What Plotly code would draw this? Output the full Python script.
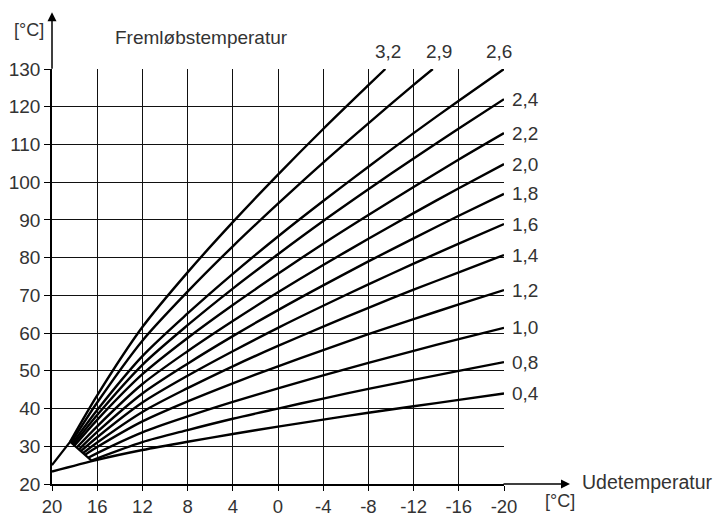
import plotly.graph_objects as go

# ---- data ----
x_ticks = [20, 16, 12, 8, 4, 0, -4, -8, -12, -16, -20]
x_tick_text = ["20", "16", "12", "8", "4", "0", "-4", "-8", "-12", "-16", "-20"]
y_ticks = [20, 30, 40, 50, 60, 70, 80, 90, 100, 110, 120, 130]

curve_names = ["3,2", "2,9", "2,6", "2,4", "2,2", "2,0", "1,8", "1,6", "1,4", "1,2", "1,0", "0,8", "0,4"]

x_32 = [18.4, 16, 12, 8, 4, 0, -4, -8, -9.5]
y_32 = [31.2, 43.5, 61.6, 76.1, 89.4, 102.0, 114.1, 125.7, 130.0]
x_29 = [18.3, 16, 12, 8, 4, 0, -4, -8, -12, -13.7]
y_29 = [31.0, 41.6, 58.0, 71.0, 83.0, 94.3, 105.2, 115.6, 125.8, 130.0]
x_26 = [18.2, 16, 12, 8, 4, 0, -4, -8, -12, -16, -20]
y_26 = [30.7, 39.6, 53.9, 65.2, 75.7, 85.6, 95.0, 104.1, 113.0, 121.6, 130.0]
x_24 = [18.1, 16, 12, 8, 4, 0, -4, -8, -12, -16, -20]
y_24 = [30.45, 38.3, 51.6, 62.1, 71.8, 80.9, 89.7, 98.1, 106.3, 114.2, 122.0]
x_22 = [18.0, 16, 12, 8, 4, 0, -4, -8, -12, -16, -20]
y_22 = [30.2, 37.0, 49.1, 58.7, 67.45, 75.7, 83.7, 91.3, 98.7, 106.0, 113.0]
x_20 = [17.8, 16, 12, 8, 4, 0, -4, -8, -12, -16, -20]
y_20 = [29.7, 35.3, 46.5, 55.2, 63.2, 70.8, 78.05, 85.0, 91.8, 98.4, 104.8]
x_18 = [17.6, 16, 12, 8, 4, 0, -4, -8, -12, -16, -20]
y_18 = [29.2, 33.8, 44.0, 51.9, 59.2, 66.1, 72.65, 79.0, 85.1, 91.1, 96.9]
x_16 = [17.45, 16, 12, 8, 4, 0, -4, -8, -12, -16, -20]
y_16 = [28.7, 32.4, 41.6, 48.7, 55.2, 61.4, 67.25, 72.9, 78.4, 83.7, 88.9]
x_14 = [17.25, 16, 12, 8, 4, 0, -4, -8, -12, -16, -20]
y_14 = [28.2, 31.0, 39.1, 45.4, 51.2, 56.6, 61.7, 66.7, 71.5, 76.1, 80.7]
x_12 = [17.1, 16, 12, 8, 4, 0, -4, -8, -12, -16, -20]
y_12 = [27.7, 29.8, 36.6, 41.9, 46.7, 51.2, 55.5, 59.7, 63.7, 67.6, 71.4]
x_10 = [16.8, 16, 12, 8, 4, 0, -4, -8, -12, -16, -20]
y_10 = [26.95, 28.2, 33.7, 37.9, 41.75, 45.35, 48.8, 52.1, 55.3, 58.4, 61.4]
x_08 = [16.5, 16, 12, 8, 4, 0, -4, -8, -12, -16, -20]
y_08 = [26.2, 26.8, 31.1, 34.3, 37.3, 40.0, 42.65, 45.2, 47.6, 50.0, 52.3]
x_04 = [20, 16, 12, 8, 4, 0, -4, -8, -12, -16, -20]
y_04 = [23.3, 26.4, 29.0, 31.2, 33.25, 35.2, 37.05, 38.9, 40.6, 42.3, 44.0]

# small parallel-shift triangle near the room-temperature point
shift_x = [20, 18.4, 16.5]
shift_y = [25.0, 31.2, 26.2]

curves_x = [x_32, x_29, x_26, x_24, x_22, x_20, x_18, x_16, x_14, x_12, x_10, x_08, x_04]
curves_y = [y_32, y_29, y_26, y_24, y_22, y_20, y_18, y_16, y_14, y_12, y_10, y_08, y_04]

TXT = "#333333"
FONT = "Arial, Liberation Sans, sans-serif"

fig = go.Figure()
for name, xs, ys in zip(curve_names, curves_x, curves_y):
    fig.add_trace(go.Scatter(x=xs, y=ys, mode="lines", name=name,
                             line=dict(color="black", width=2.4, shape="spline", smoothing=0.8),
                             hoverinfo="skip", showlegend=False))
fig.add_trace(go.Scatter(x=shift_x, y=shift_y, mode="lines",
                         line=dict(color="black", width=2.2), hoverinfo="skip", showlegend=False))

annotations = []
top_shift = {"3,2": 3, "2,9": 6, "2,6": -5}
for name, xs, ys in zip(curve_names, curves_x, curves_y):
    if ys[-1] >= 130 and name in top_shift:
        annotations.append(dict(x=xs[-1], y=130, xref="x", yref="y", text=name, showarrow=False,
                                xanchor="center", yanchor="bottom", yshift=5, xshift=top_shift[name],
                                font=dict(size=19, color=TXT, family=FONT)))
    else:
        annotations.append(dict(x=xs[-1], y=ys[-1], xref="x", yref="y", text=name, showarrow=False,
                                xanchor="left", yanchor="middle", xshift=6,
                                font=dict(size=19, color=TXT, family=FONT)))

annotations += [
    dict(x=-0.051, y=1.094, xref="paper", yref="paper", text="[°C]", showarrow=False,
         xanchor="center", yanchor="middle", font=dict(size=18, color=TXT, family=FONT)),
    dict(x=0.33, y=1.077, xref="paper", yref="paper", text="Fremløbstemperatur", showarrow=False,
         xanchor="center", yanchor="middle", font=dict(size=19, color=TXT, family=FONT)),
    dict(x=1.318, y=0.005, xref="paper", yref="paper", text="Udetemperatur", showarrow=False,
         xanchor="center", yanchor="middle", font=dict(size=19.5, color=TXT, family=FONT)),
    dict(x=1.124, y=-0.041, xref="paper", yref="paper", text="[°C]", showarrow=False,
         xanchor="center", yanchor="middle", font=dict(size=18, color=TXT, family=FONT)),
    # axis arrows
    dict(x=0, y=1.137, xref="paper", yref="paper", ax=0, ay=58, axref="pixel", ayref="pixel",
         showarrow=True, arrowhead=2, arrowsize=1.2, arrowwidth=1.5, arrowcolor="black", text=""),
    dict(x=1.146, y=0, xref="paper", yref="paper", ax=-68, ay=0, axref="pixel", ayref="pixel",
         showarrow=True, arrowhead=2, arrowsize=1.2, arrowwidth=1.5, arrowcolor="black", text=""),
]

# the page body adds an 8px offset; the figure is sized so it ends at the window edge and the
# plot area sits at 52..504 x 69..484 in the window
fig.update_layout(
    width=714, height=508,
    margin=dict(l=44, r=218, t=61, b=32, autoexpand=False),
    paper_bgcolor="white", plot_bgcolor="white",
    font=dict(family=FONT, color=TXT),
    annotations=annotations,
    xaxis=dict(range=[20, -20], tickvals=x_ticks, ticktext=x_tick_text, automargin=False,
               showgrid=True, gridcolor="#111111", gridwidth=1.4, zeroline=False,
               showline=True, linecolor="black", linewidth=1.5,
               ticks="outside", ticklen=5, tickcolor="black", tickwidth=1.3,
               tickfont=dict(size=18.5, color=TXT, family=FONT)),
    yaxis=dict(range=[20, 130], tickvals=y_ticks, automargin=False,
               showgrid=True, gridcolor="#111111", gridwidth=1.4, zeroline=False,
               showline=True, linecolor="black", linewidth=1.5,
               ticks="outside", ticklen=6, tickcolor="black", tickwidth=1.3,
               tickfont=dict(size=19, color=TXT, family=FONT)),
)

fig.write_html("out.html")
